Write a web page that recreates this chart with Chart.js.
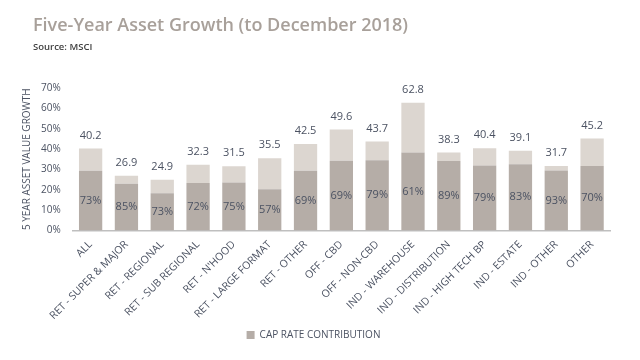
<!DOCTYPE html>
<html lang="en">
<head>
    <meta charset="UTF-8">
    <title>Five-Year Asset Growth</title>
    <script src="https://cdn.jsdelivr.net/npm/chart.js"></script>
    <style>
        body { margin: 0; background: #fff; font-family: "Open Sans", sans-serif; }
        #wrap { position: relative; width: 640px; height: 360px; }
        #title { position: absolute; left: 33px; top: 12px; font-size: 18px; font-weight: 600; color: #a8a09a; white-space: nowrap; }
        #source { position: absolute; left: 33px; top: 40px; font-size: 9.5px; font-weight: 600; color: #404040; }
        canvas { position: absolute; left: 0; top: 0; }
    </style>
</head>
<body>
    <div id="wrap">
        <canvas id="growthChart" width="640" height="360"></canvas>
        <div id="title">Five-Year Asset Growth (to December 2018)</div>
        <div id="source">Source: MSCI</div>
    </div>
    <script>
        const categories = ['ALL', 'RET - SUPER & MAJOR', 'RET - REGIONAL', 'RET - SUB REGIONAL', "RET - N'HOOD",
            'RET - LARGE FORMAT', 'RET - OTHER', 'OFF - CBD', 'OFF - NON-CBD', 'IND - WAREHOUSE',
            'IND - DISTRIBUTION', 'IND - HIGH TECH BP', 'IND - ESTATE', 'IND - OTHER', 'OTHER'];
        const totals = [40.2, 26.9, 24.9, 32.3, 31.5, 35.5, 42.5, 49.6, 43.7, 62.8, 38.3, 40.4, 39.1, 31.7, 45.2];
        const capRateShare = ['73%', '85%', '73%', '72%', '75%', '57%', '69%', '69%', '79%', '61%', '89%', '79%', '83%', '93%', '70%'];
        const capRate = [29.3, 22.9, 18.2, 23.3, 23.6, 20.2, 29.3, 34.2, 34.5, 38.3, 34.1, 31.9, 32.5, 29.5, 31.6];
        const otherGrowth = [10.9, 4.0, 6.7, 9.0, 7.9, 15.3, 13.2, 15.4, 9.2, 24.5, 4.2, 8.5, 6.6, 2.2, 13.6];

        const textColor = '#4b5262';

        // labels: share inside dark bar, total above stack
        const barLabels = {
            id: 'barLabels',
            afterDatasetsDraw(chart) {
                const ctx = chart.ctx;
                const dark = chart.getDatasetMeta(0).data;
                const light = chart.getDatasetMeta(1).data;
                ctx.save();
                ctx.fillStyle = textColor;
                ctx.font = '11px "Open Sans"';
                ctx.textAlign = 'center';
                ctx.textBaseline = 'middle';
                dark.forEach((bar, i) => {
                    ctx.fillText(capRateShare[i], bar.x, (bar.y + bar.base) / 2);
                    ctx.fillText(totals[i].toFixed(1), light[i].x, light[i].y - 13);
                });
                ctx.restore();
            }
        };

        const ctx = document.getElementById('growthChart').getContext('2d');
        new Chart(ctx, {
            type: 'bar',
            data: {
                labels: categories,
                datasets: [{
                    label: 'CAP RATE CONTRIBUTION',
                    data: capRate,
                    backgroundColor: '#b5ada7',
                    barPercentage: 0.65,
                    categoryPercentage: 1
                }, {
                    label: 'OTHER',
                    data: otherGrowth,
                    backgroundColor: '#dcd6d0',
                    barPercentage: 0.65,
                    categoryPercentage: 1
                }]
            },
            options: {
                responsive: false,
                animation: false,
                layout: { padding: { left: 17, right: 30, top: 88, bottom: 10 } },
                plugins: {
                    legend: {
                        position: 'bottom',
                        labels: {
                            filter: item => item.datasetIndex === 0,
                            boxWidth: 8,
                            boxHeight: 8,
                            padding: 6,
                            color: textColor,
                            font: { family: 'Open Sans', size: 10 }
                        }
                    },
                    tooltip: { enabled: false }
                },
                scales: {
                    x: {
                        stacked: true,
                        grid: { display: false },
                        border: { color: '#bfbfbf', width: 1.5 },
                        afterFit: scale => { scale.height += 2; },
                        ticks: {
                            minRotation: 45,
                            maxRotation: 45,
                            padding: 0,
                            color: textColor,
                            font: { family: 'Open Sans', size: 10.5 }
                        }
                    },
                    y: {
                        stacked: true,
                        min: 0,
                        max: 70,
                        grid: { display: false },
                        border: { display: false },
                        title: {
                            display: true,
                            text: '5 YEAR ASSET VALUE GROWTH',
                            color: textColor,
                            font: { family: 'Open Sans', size: 10 }
                        },
                        ticks: {
                            stepSize: 10,
                            padding: 4,
                            color: textColor,
                            font: { family: 'Open Sans', size: 10 },
                            callback: v => v + '%'
                        }
                    }
                }
            },
            plugins: [barLabels]
        });
    </script>
</body>
</html>
